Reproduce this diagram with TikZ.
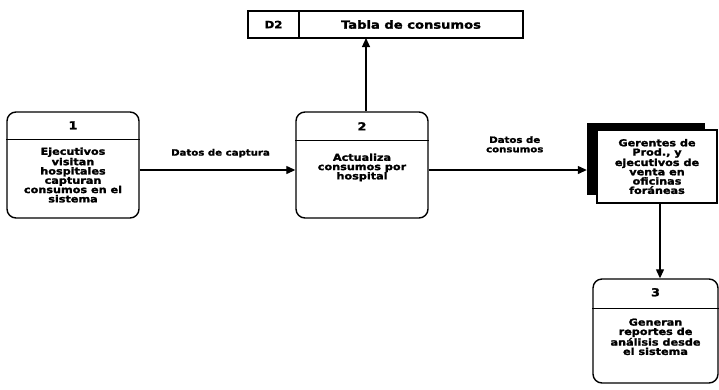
\documentclass[tikz,border=0pt]{standalone}
\usepackage{fontspec}
\setmainfont{DejaVu Sans}[FakeStretch=1.17,BoldFeatures={FakeBold=1.8,FakeStretch=1.17}]
\usetikzlibrary{arrows.meta,positioning}

\newcommand*{\boxfont}{\fontsize{9.6}{9.3}\selectfont\bfseries}
\newcommand*{\numfont}{\fontsize{11}{12}\selectfont\bfseries}
\newcommand*{\storefont}{\fontsize{10}{12}\selectfont\bfseries}
\newcommand*{\labelfont}{\fontsize{8.7}{9.4}\selectfont\bfseries}

\begin{document}
\begin{tikzpicture}
[
	x=1pt, y=-1pt,
	proc/.style={draw,line width=1.4pt,rounded corners=9pt,inner sep=0pt,minimum width=132pt,minimum height=106pt},
	boxtext/.style={align=center,font=\boxfont,inner sep=0pt},
	numtext/.style={font=\numfont,inner sep=0pt},
	store/.style={draw,line width=1.2pt,outer sep=0pt,minimum height=27pt,inner sep=0pt,font=\storefont},
	flow/.style={line width=1.2pt,-{Triangle[length=9pt,width=8pt]}},
	lbl/.style={align=center,font=\labelfont,inner sep=0pt}
]
	\useasboundingbox (0,0) rectangle (719,389);

	% processes
	\node[proc] (p1) at (73,165) {};
	\node[proc] (p2) at (362,165) {};
	\node[proc,minimum width=125pt,minimum height=104pt] (p3) at (655.5,331) {};

	% dividers
	\draw[line width=1.4pt] ([yshift=-28pt]p1.north west) -- ([yshift=-28pt]p1.north east);
	\draw[line width=1.4pt] ([yshift=-29pt]p2.north west) -- ([yshift=-29pt]p2.north east);
	\draw[line width=1.4pt] ([yshift=-30pt]p3.north west) -- ([yshift=-30pt]p3.north east);

	% process texts
	\node[numtext] (n1) at ([yshift=-14pt]p1.north) {1};
	\node[numtext] (n2) at ([yshift=-15pt]p2.north) {2};
	\node[numtext] (n3) at ([yshift=-14pt]p3.north) {3};
	\node[boxtext,anchor=north] (t1) at ([yshift=-36pt]p1.north) {Ejecutivos\\visitan\\hospitales\\capturan\\consumos en el\\sistema};
	\node[boxtext,anchor=north] (t2) at ([yshift=-42pt]p2.north) {Actualiza\\consumos por\\hospital};
	\node[boxtext,anchor=north] (t3) at ([yshift=-40pt]p3.north) {Generan\\reportes de\\análisis desde\\el sistema};

	% data store
	\node[store,minimum width=51pt] (d2) at (273.5,24.5) {D2};
	\node[store,minimum width=224pt,right=0pt of d2,font=\fontsize{11.2}{12}\selectfont\bfseries] (tabla) {Tabla de consumos};

	% external entity
	\node[fill=black,minimum width=118pt,minimum height=72pt,inner sep=0pt] (entshadow) at (646,159) {};
	\node[draw,fill=white,line width=1.2pt,minimum width=120pt,minimum height=73pt,boxtext] (ent) at (657,166.5) {Gerentes de\\Prod., y\\ejecutivos de\\venta en\\oficinas\\foráneas};

	% flows
	\draw[flow] ([yshift=-5pt]p1.east) -- ([yshift=-5pt]p1.east -| p2.west)
		node[lbl,midway,above=12pt,xshift=3pt] (l1) {Datos de captura};
	\draw[flow] ([yshift=-5pt]p2.east) -- ([yshift=-5pt]p2.east -| entshadow.west)
		node[lbl,midway,above=17pt,xshift=7pt] (l2) {Datos de\\consumos};
	\draw[flow] ([xshift=4pt]p2.north) -- ([xshift=4pt]p2.north |- tabla.south);
	\draw[flow] ([xshift=3pt]ent.south) -- ([xshift=3pt]ent.south |- p3.north);

\end{tikzpicture}
\end{document}
